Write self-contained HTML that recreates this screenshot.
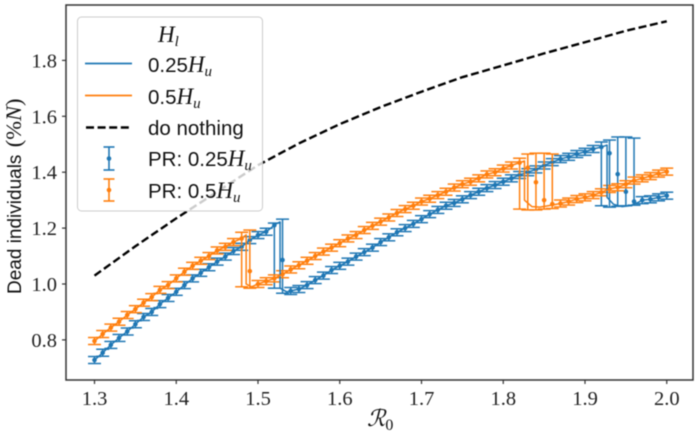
<!DOCTYPE html>
<html lang="en">
<head>
<meta charset="utf-8">
<title>Dead individuals vs R0</title>
<style>
  html, body { margin: 0; padding: 0; background: #fff; }
  svg { display: block; filter: blur(0.45px); }
  .tick { font-family: "Liberation Serif", serif; font-size: 20.5px; fill: #222; }
  .leg { font-family: "Liberation Sans", sans-serif; font-size: 20.5px; fill: #111; }
  .math { font-family: "Liberation Serif", serif; font-style: italic; }
</style>
</head>
<body>
<svg id="chart" xmlns="http://www.w3.org/2000/svg" width="700" height="435" viewBox="0 0 700 435">
  <rect x="0" y="0" width="700" height="435" fill="#fff"/>
  <g id="marks"></g>
  <g id="axes">
    <rect x="66" y="5" width="627" height="375" fill="none" stroke="#333" stroke-width="1.5"/>
  </g>
  <text x="367" y="426" font-family="'DejaVu Serif','Liberation Serif',serif" font-style="italic" font-size="23" fill="#111">ℛ<tspan font-family="'Liberation Serif',serif" font-style="normal" font-size="16" dy="4">0</tspan></text>
  <text transform="translate(21,294) rotate(-90)" font-family="'Liberation Sans',sans-serif" font-size="19" fill="#111">Dead individuals <tspan font-family="'Liberation Serif',serif" font-size="22.5" dx="2">(%<tspan font-style="italic">N</tspan>)</tspan></text>

  <g>
    <rect x="77.5" y="17" width="185" height="194" rx="4" fill="#fff" fill-opacity="0.8" stroke="#ccc" stroke-width="1"/>
    <text x="158" y="42" font-family="'Liberation Serif',serif" font-style="italic" font-size="23" fill="#111">H<tspan font-size="15" dy="4">l</tspan></text>

    <line x1="85" y1="63.5" x2="132" y2="63.5" stroke="#1f77b4" stroke-width="1.7"/>
    <text class="leg" x="148" y="72">0.25<tspan class="math" font-size="23">H</tspan><tspan class="math" font-size="15" dy="4">u</tspan></text>

    <line x1="85" y1="95.5" x2="132" y2="95.5" stroke="#ff7f0e" stroke-width="1.7"/>
    <text class="leg" x="148" y="104">0.5<tspan class="math" font-size="23">H</tspan><tspan class="math" font-size="15" dy="4">u</tspan></text>

    <line x1="86" y1="127.5" x2="132" y2="127.5" stroke="#000" stroke-width="2.4" stroke-dasharray="8 3.6"/>
    <text class="leg" x="148" y="135">do nothing</text>

    <g stroke="#1f77b4" stroke-width="1.6" fill="#1f77b4">
      <line x1="109" y1="147" x2="109" y2="170"/>
      <line x1="103.5" y1="147" x2="114.5" y2="147"/>
      <line x1="103.5" y1="170" x2="114.5" y2="170"/>
      <circle cx="109" cy="158.5" r="2.3" stroke="none"/>
    </g>
    <text class="leg" x="148" y="166">PR: 0.25<tspan class="math" font-size="23">H</tspan><tspan class="math" font-size="15" dy="4">u</tspan></text>

    <g stroke="#ff7f0e" stroke-width="1.6" fill="#ff7f0e">
      <line x1="109" y1="179" x2="109" y2="201"/>
      <line x1="103.5" y1="179" x2="114.5" y2="179"/>
      <line x1="103.5" y1="201" x2="114.5" y2="201"/>
      <circle cx="109" cy="190" r="2.3" stroke="none"/>
    </g>
    <text class="leg" x="148" y="198">PR: 0.5<tspan class="math" font-size="23">H</tspan><tspan class="math" font-size="15" dy="4">u</tspan></text>
  </g>
</svg>

<script>
const xTickLabels = ["1.3","1.4","1.5","1.6","1.7","1.8","1.9","2.0"];
const yTickLabels = ["0.8","1.0","1.2","1.4","1.6","1.8"];

const r0Values = [1.30,1.31,1.32,1.33,1.34,1.35,1.36,1.37,1.38,1.39,
  1.40,1.41,1.42,1.43,1.44,1.45,1.46,1.47,1.48,1.49,
  1.50,1.51,1.52,1.53,1.54,1.55,1.56,1.57,1.58,1.59,
  1.60,1.61,1.62,1.63,1.64,1.65,1.66,1.67,1.68,1.69,
  1.70,1.71,1.72,1.73,1.74,1.75,1.76,1.77,1.78,1.79,
  1.80,1.81,1.82,1.83,1.84,1.85,1.86,1.87,1.88,1.89,
  1.90,1.91,1.92,1.93,1.94,1.95,1.96,1.97,1.98,1.99,2.00];

const blueValues = [0.728,0.754,0.782,0.807,0.83,0.856,0.882,0.90,0.928,0.95,
  0.972,0.996,1.02,1.04,1.06,1.08,1.098,1.118,1.133,1.157,
  1.175,1.187,1.21,1.086,0.975,0.982,0.996,1.014,1.03,1.05,
  1.065,1.08,1.098,1.114,1.13,1.15,1.167,1.185,1.20,1.215,
  1.232,1.25,1.265,1.28,1.29,1.303,1.318,1.33,1.343,1.354,
  1.366,1.378,1.39,1.40,1.41,1.424,1.436,1.447,1.455,1.465,
  1.473,1.483,1.49,1.468,1.393,1.33,1.295,1.30,1.303,1.31,1.316];

const orangeValues = [0.796,0.821,0.844,0.865,0.889,0.91,0.933,0.953,0.979,0.996,
  1.02,1.044,1.065,1.083,1.10,1.12,1.133,1.15,1.163,1.046,
  1.00,1.01,1.02,1.035,1.052,1.067,1.083,1.10,1.116,1.13,
  1.146,1.163,1.175,1.193,1.208,1.223,1.238,1.254,1.268,1.28,
  1.295,1.305,1.318,1.33,1.345,1.357,1.366,1.378,1.392,1.40,
  1.413,1.424,1.434,1.416,1.364,1.30,1.286,1.288,1.295,1.304,
  1.31,1.318,1.328,1.34,1.346,1.357,1.37,1.378,1.386,1.395,1.402];

const errorHalfWidth = [0.0125];

const blueWideIndex = [22,23,62,63,64,65,66];
const blueWideLow = [0.985,0.967,1.28,1.275,1.278,1.28,1.282];
const blueWideHigh = [1.218,1.232,1.508,1.515,1.526,1.526,1.522];

const orangeWideIndex = [18,19,52,53,54,55,56];
const orangeWideLow = [0.99,0.985,1.268,1.265,1.265,1.268,1.27];
const orangeWideHigh = [1.185,1.193,1.45,1.465,1.468,1.468,1.465];

const blueUpperEnd = [22,62];
const blueLowerStart = [24,67];
const blueDropR0 = [1.522,1.527,1.527,1.535];
const blueDropValues = [1.215,1.222,0.985,0.972];
const blueHookR0 = [1.927,1.927,1.935,1.945,1.955,1.965];
const blueHookValues = [1.497,1.31,1.285,1.277,1.28,1.292];

const orangeUpperEnd = [18,52];
const orangeLowerStart = [20,57];
const orangeDropR0 = [1.4855,1.4855,1.492];
const orangeDropValues = [1.176,1.00,0.99];
const orangeHookR0 = [1.826,1.826,1.835,1.845,1.855];
const orangeHookValues = [1.44,1.30,1.277,1.275,1.28];

const doNothingR0 = [1.30,1.35,1.40,1.45,1.50,1.55,1.60,1.65,1.70,1.75,1.80,1.85,1.90,1.95,2.00];
const doNothingValues = [1.03,1.135,1.235,1.33,1.425,1.503,1.572,1.633,1.688,1.74,1.782,1.825,1.865,1.906,1.94];

function xScale(v) { return 94.5 + (v - 1.3) * 817.5; }
function yScale(v) { return 284 - (v - 1.0) * 279.5; }

const marks = document.getElementById('marks');
const axes = document.getElementById('axes');
const NS = 'http://www.w3.org/2000/svg';

function make(tag, attrs, parent) {
  const el = document.createElementNS(NS, tag);
  for (const k in attrs) el.setAttribute(k, attrs[k]);
  parent.appendChild(el);
  return el;
}

function buildPath(xs, ys) {
  return xs.map((x, i) => (i ? 'L' : 'M') + xScale(x).toFixed(2) + ' ' + yScale(ys[i]).toFixed(2)).join(' ');
}

xTickLabels.forEach((label) => {
  const v = parseFloat(label);
  const px = xScale(v);
  const t = make('line', { x1: px, y1: 380, x2: px, y2: 384, stroke: '#333', 'stroke-width': 1.2 }, axes);
  
  
  const txt = make('text', { x: px, y: 405, 'text-anchor': 'middle', class: 'tick' }, axes);
  
  
  txt.textContent = label;
});

yTickLabels.forEach((label) => {
  const v = parseFloat(label);
  const py = yScale(v);
  const t = make('line', { x1: 62, y1: py, x2: 66, y2: py, stroke: '#333', 'stroke-width': 1.2 }, axes);
  
  
  const txt = make('text', { x: 57, y: py + 7, 'text-anchor': 'end', class: 'tick' }, axes);
  
  
  txt.textContent = label;
});

function drawDropLine(values, upperEnd, lowerStart, firstR0, firstVals, secondR0, secondVals, color, name) {
  const xs = [];
  const ys = [];
  for (let i = 0; i <= upperEnd[0]; i++) { xs.push(r0Values[i]); ys.push(values[i]); }
  firstR0.forEach((x, i) => { xs.push(x); ys.push(firstVals[i]); });
  for (let i = lowerStart[0]; i <= upperEnd[1]; i++) { xs.push(r0Values[i]); ys.push(values[i]); }
  secondR0.forEach((x, i) => { xs.push(x); ys.push(secondVals[i]); });
  for (let i = lowerStart[1]; i < values.length; i++) { xs.push(r0Values[i]); ys.push(values[i]); }
  const p = make('path', { d: buildPath(xs, ys), fill: 'none', stroke: color, 'stroke-width': 1.5, 'stroke-linejoin': 'round' }, marks);
  
  
}

function drawErrorBars(values, wideIndex, wideLow, wideHigh, color, name) {
  values.forEach((v, i) => {
    const w = wideIndex.indexOf(i);
    const low = w >= 0 ? wideLow[w] : v - errorHalfWidth[0];
    const high = w >= 0 ? wideHigh[w] : v + errorHalfWidth[0];
    const px = xScale(r0Values[i]);
    const g = make('g', { stroke: color, 'stroke-width': 1.5, fill: color }, marks);
    
    
    make('line', { x1: px, y1: yScale(low), x2: px, y2: yScale(high) }, g);
    make('line', { x1: px - 6.5, y1: yScale(low), x2: px + 6.5, y2: yScale(low) }, g);
    make('line', { x1: px - 6.5, y1: yScale(high), x2: px + 6.5, y2: yScale(high) }, g);
    make('circle', { cx: px, cy: yScale(v), r: 2.3, stroke: 'none' }, g);
  });
}

const dash = make('path', {
  d: buildPath(doNothingR0, doNothingValues),
  fill: 'none', stroke: '#000', 'stroke-width': 2.4, 'stroke-dasharray': '8 3.6'
}, marks);



drawErrorBars(blueValues, blueWideIndex, blueWideLow, blueWideHigh, '#1f77b4', 'pr-025-errorbar');
drawErrorBars(orangeValues, orangeWideIndex, orangeWideLow, orangeWideHigh, '#ff7f0e', 'pr-05-errorbar');
drawDropLine(blueValues, blueUpperEnd, blueLowerStart, blueDropR0, blueDropValues, blueHookR0, blueHookValues, '#1f77b4', 'line-025');
drawDropLine(orangeValues, orangeUpperEnd, orangeLowerStart, orangeDropR0, orangeDropValues, orangeHookR0, orangeHookValues, '#ff7f0e', 'line-05');
</script>
</body>
</html>
